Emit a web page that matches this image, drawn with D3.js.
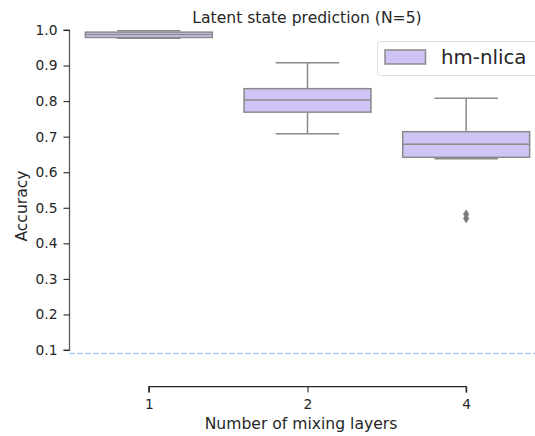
<!DOCTYPE html>
<html><head><meta charset="utf-8">
<script src="https://cdn.jsdelivr.net/npm/d3@7"></script>
<style>body{margin:0;background:#fff}svg{display:block}text{font-family:"DejaVu Sans",sans-serif;fill:#262626}</style>
</head><body><div id="chart"></div>
<script>
const categories = ["1", "2", "4"];
const whiskerLow = [0.977, 0.708, 0.638];
const q1 = [0.979, 0.769, 0.642];
const medians = [0.987, 0.803, 0.679];
const q3 = [0.994, 0.835, 0.714];
const whiskerHigh = [0.998, 0.908, 0.808];
const outliers = [[], [], [0.482, 0.470]];
const yTicks = [0.1, 0.2, 0.3, 0.4, 0.5, 0.6, 0.7, 0.8, 0.9, 1.0];
const chanceLevel = 0.09;
const seriesName = "hm-nlica";

const W = 535, H = 436;
const svg = d3.select("#chart").append("svg").attr("width", W).attr("height", H);

const x = d3.scaleBand().domain(categories).range([69.5, 545.5]).paddingInner(0.2).paddingOuter(0.1);
const y = d3.scaleLinear().domain([0.1, 1.0]).range([350, 30]);

const fill = "#d0c3f6", edge = "#8a8a8a";

// chance line
svg.append("line").attr("x1", 69.5).attr("x2", W).attr("y1", y(chanceLevel)).attr("y2", y(chanceLevel))
  .attr("stroke", "#a3caf0").attr("stroke-width", 1.6).attr("stroke-dasharray", "5.5,2.5");

// Y axis
const yAxis = d3.axisLeft(y).tickValues(yTicks).tickFormat(d3.format(".1f")).tickSize(6).tickPadding(6);
const gy = svg.append("g").attr("transform", "translate(69.5,0)").call(yAxis);
gy.select(".domain").attr("stroke", "#555").attr("stroke-width", 1.25).attr("d", `M-6,${y(1.0)}H0V${y(0.1)}H-6`);
gy.selectAll(".tick line").attr("stroke", "#262626").attr("stroke-width", 1.1);
gy.selectAll(".tick text").style("font-size", "13.8px").attr("fill", "#262626");

// X axis
const xc = d => x(d) + x.bandwidth() / 2;
const xp = d3.scalePoint().domain(categories).range([xc(categories[0]), xc(categories[2])]);
const xAxis = d3.axisBottom(xp).tickSize(6).tickPadding(6.5);
const gx = svg.append("g").attr("transform", "translate(0,386.5)").call(xAxis);
gx.select(".domain").attr("stroke", "#262626").attr("stroke-width", 1.25)
  .attr("d", `M${xp("1")},6V0H${xp("4")}V6`);
gx.selectAll(".tick line").attr("stroke", "#262626").attr("stroke-width", 1.1);
gx.selectAll(".tick text").style("font-size", "13.8px").attr("fill", "#262626");

// boxes
const bw = x.bandwidth();
categories.forEach((c, i) => {
  const cx = xc(c);
  const g = svg.append("g");
  g.append("line").attr("x1", cx).attr("x2", cx).attr("y1", y(whiskerHigh[i])).attr("y2", y(q3[i]))
    .attr("stroke", edge).attr("stroke-width", 1.5);
  g.append("line").attr("x1", cx).attr("x2", cx).attr("y1", y(q1[i])).attr("y2", y(whiskerLow[i]))
    .attr("stroke", edge).attr("stroke-width", 1.5);
  g.append("line").attr("x1", cx - bw / 4).attr("x2", cx + bw / 4).attr("y1", y(whiskerHigh[i])).attr("y2", y(whiskerHigh[i]))
    .attr("stroke", edge).attr("stroke-width", 1.5);
  g.append("line").attr("x1", cx - bw / 4).attr("x2", cx + bw / 4).attr("y1", y(whiskerLow[i])).attr("y2", y(whiskerLow[i]))
    .attr("stroke", edge).attr("stroke-width", 1.5);
  g.append("rect").attr("x", x(c)).attr("width", bw).attr("y", y(q3[i])).attr("height", y(q1[i]) - y(q3[i]))
    .attr("fill", fill).attr("stroke", edge).attr("stroke-width", 1.5);
  g.append("line").attr("x1", x(c)).attr("x2", x(c) + bw).attr("y1", y(medians[i])).attr("y2", y(medians[i]))
    .attr("stroke", edge).attr("stroke-width", 1.5);
  outliers[i].forEach(v => {
    g.append("path").attr("d", `M${cx},${y(v) - 4.5}L${cx + 2.8},${y(v)}L${cx},${y(v) + 4.5}L${cx - 2.8},${y(v)}Z`)
      .attr("fill", "#7a7a7a").attr("stroke", "#7a7a7a").attr("stroke-width", 0.5);
  });
});

// title & labels
svg.append("text").attr("x", 307).attr("y", 23).attr("text-anchor", "middle").style("font-size", "15.6px")
  .text("Latent state prediction (N=5)");
svg.append("text").attr("x", 301).attr("y", 429).attr("text-anchor", "middle").style("font-size", "15.6px")
  .text("Number of mixing layers");
svg.append("text").attr("transform", "translate(27,206) rotate(-90)").attr("text-anchor", "middle").style("font-size", "15.6px")
  .text("Accuracy");

// legend
const lg = svg.append("g");
lg.append("rect").attr("x", 377.5).attr("y", 41.5).attr("width", 162).attr("height", 34).attr("rx", 3)
  .attr("fill", "#fff").attr("fill-opacity", 0.8).attr("stroke", "#dddddd").attr("stroke-width", 1);
lg.append("rect").attr("x", 385).attr("y", 50).attr("width", 40.5).attr("height", 14)
  .attr("fill", fill).attr("stroke", edge).attr("stroke-width", 1.5);
lg.append("text").attr("x", 441).attr("y", 64).style("font-size", "19.8px").text(seriesName);
</script></body></html>
